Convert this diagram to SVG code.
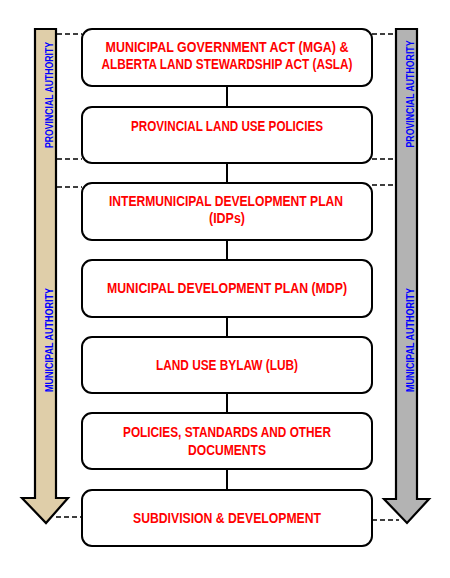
<svg xmlns="http://www.w3.org/2000/svg" width="450" height="578" viewBox="0 0 450 578">
<style>
.box{fill:#fff;stroke:#000;stroke-width:2}
.lbl{font-family:"Liberation Sans",Arial,sans-serif;font-weight:bold;font-size:14px;fill:#ff0000;text-anchor:middle}
.auth{font-family:"Liberation Sans",Arial,sans-serif;font-weight:bold;font-size:11px;fill:#0000ff;text-anchor:middle}
.conn{stroke:#000;stroke-width:2;fill:none}
.dash{stroke:#000;stroke-width:1.3;stroke-dasharray:5,3;fill:none}
.arr{stroke:#000;stroke-width:2.2;stroke-linejoin:miter}
</style>
<rect width="450" height="578" fill="#fff"/>
<g id="arrow-left">
<path class="arr" fill="#dfcea9" d="M35,29 H56 V498 H68 L46,523 L22,498 H35 Z"/>
<text class="auth" transform="translate(53,95) rotate(-90)" textLength="106" lengthAdjust="spacingAndGlyphs">PROVINCIAL AUTHORITY</text>
<text class="auth" transform="translate(53,340) rotate(-90)" textLength="104" lengthAdjust="spacingAndGlyphs">MUNICIPAL AUTHORITY</text>
</g>
<g id="arrow-right">
<path class="arr" fill="#b3b3b3" d="M396,29 H417 V499 H429 L407,523 L384,499 H396 Z"/>
<text class="auth" transform="translate(414,94) rotate(-90)" textLength="107" lengthAdjust="spacingAndGlyphs">PROVINCIAL AUTHORITY</text>
<text class="auth" transform="translate(414,340) rotate(-90)" textLength="104" lengthAdjust="spacingAndGlyphs">MUNICIPAL AUTHORITY</text>
</g>
<g id="connectors">
<line class="conn" x1="227" y1="86" x2="227" y2="107"/>
<line class="conn" x1="227" y1="163" x2="227" y2="183"/>
<line class="conn" x1="227" y1="240" x2="227" y2="260"/>
<line class="conn" x1="227" y1="317" x2="227" y2="337"/>
<line class="conn" x1="227" y1="393" x2="227" y2="413"/>
<line class="conn" x1="227" y1="469" x2="227" y2="490"/>
<line class="dash" x1="57" y1="34" x2="82" y2="34"/>
<line class="dash" x1="57" y1="159" x2="82" y2="159"/>
<line class="dash" x1="57" y1="187" x2="82" y2="187"/>
<line class="dash" x1="372" y1="34" x2="396" y2="34"/>
<line class="dash" x1="372" y1="159" x2="396" y2="159"/>
<line class="dash" x1="372" y1="185" x2="396" y2="185"/>
<line class="dash" x1="56" y1="517" x2="82" y2="517"/>
<line class="dash" x1="372" y1="520" x2="399" y2="520"/>
</g>
<g id="node-mga">
<rect class="box" x="82" y="29" width="290" height="57" rx="10"/>
<text class="lbl" x="227" y="52" textLength="243" lengthAdjust="spacingAndGlyphs">MUNICIPAL GOVERNMENT ACT (MGA) &amp;</text>
<text class="lbl" x="227" y="69" textLength="251" lengthAdjust="spacingAndGlyphs">ALBERTA LAND STEWARDSHIP ACT (ASLA)</text>
</g>
<g id="node-plup">
<rect class="box" x="82" y="107" width="290" height="56" rx="10"/>
<text class="lbl" x="227" y="131" textLength="192" lengthAdjust="spacingAndGlyphs">PROVINCIAL LAND USE POLICIES</text>
</g>
<g id="node-idp">
<rect class="box" x="82" y="183" width="290" height="57" rx="10"/>
<text class="lbl" x="226" y="206" textLength="234" lengthAdjust="spacingAndGlyphs">INTERMUNICIPAL DEVELOPMENT PLAN</text>
<text class="lbl" x="227" y="223" textLength="36" lengthAdjust="spacingAndGlyphs">(IDPs)</text>
</g>
<g id="node-mdp">
<rect class="box" x="82" y="260" width="290" height="57" rx="10"/>
<text class="lbl" x="227" y="293" textLength="240" lengthAdjust="spacingAndGlyphs">MUNICIPAL DEVELOPMENT PLAN (MDP)</text>
</g>
<g id="node-lub">
<rect class="box" x="82" y="337" width="290" height="56" rx="10"/>
<text class="lbl" x="227" y="370" textLength="142" lengthAdjust="spacingAndGlyphs">LAND USE BYLAW (LUB)</text>
</g>
<g id="node-policies">
<rect class="box" x="82" y="413" width="290" height="56" rx="10"/>
<text class="lbl" x="227" y="437" textLength="208" lengthAdjust="spacingAndGlyphs">POLICIES, STANDARDS AND OTHER</text>
<text class="lbl" x="227" y="455" textLength="78" lengthAdjust="spacingAndGlyphs">DOCUMENTS</text>
</g>
<g id="node-subdivision">
<rect class="box" x="82" y="490" width="290" height="56" rx="10"/>
<text class="lbl" x="227" y="523" textLength="188" lengthAdjust="spacingAndGlyphs">SUBDIVISION &amp; DEVELOPMENT</text>
</g>
</svg>
